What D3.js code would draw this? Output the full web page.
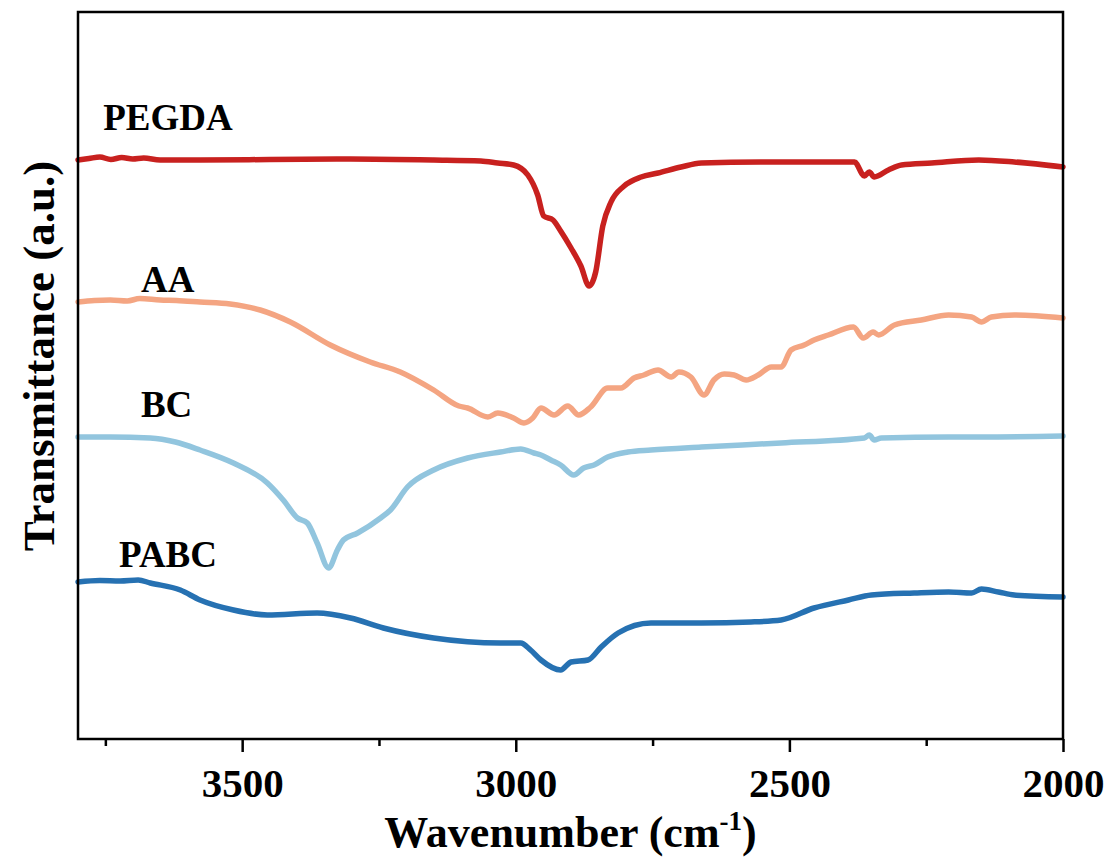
<!DOCTYPE html>
<html>
<head>
<meta charset="utf-8">
<script src="https://cdn.jsdelivr.net/npm/d3@7"></script>
<style>
  body { margin: 0; background: #fff; }
  svg text { font-family: "Liberation Serif", "Times New Roman", serif; font-weight: bold; fill: #000; }
</style>
</head>
<body>
<svg id="canvas" width="1112" height="863"></svg>
<script>
// FTIR spectra, wavenumber (cm-1) vs transmittance (a.u., stacked with offsets)
var pegdaWn = [3800, 3780, 3760, 3740, 3720, 3700, 3680, 3650, 3577, 3450, 3302, 3150, 3064, 3033, 3004, 2978, 2960, 2949, 2932, 2918, 2899, 2881, 2866, 2854, 2841, 2826, 2802, 2771, 2740, 2698, 2661, 2552, 2450, 2381, 2363, 2354, 2345, 2319, 2295, 2240, 2154, 2089, 2000];
var pegdaT  = [116.0, 116.3, 116.6, 116.1, 116.5, 116.2, 116.4, 116.0, 116.0, 116.1, 116.2, 116.0, 115.8, 115.4, 115.0, 113.0, 109.0, 104.8, 104.0, 101.8, 98.4, 94.8, 90.8, 93.6, 102.8, 107.6, 110.8, 112.6, 113.4, 114.6, 115.4, 115.6, 115.6, 115.6, 112.8, 113.6, 112.6, 114.0, 115.0, 115.4, 116.0, 115.6, 114.6];

var aaWn = [3800, 3770, 3741, 3710, 3687, 3650, 3620, 3577, 3522, 3467, 3412, 3339, 3266, 3211, 3150, 3104, 3088, 3051, 3033, 3004, 2985, 2969, 2954, 2930, 2905, 2885, 2863, 2832, 2808, 2784, 2766, 2740, 2716, 2702, 2680, 2656, 2638, 2619, 2601, 2579, 2557, 2533, 2515, 2497, 2473, 2455, 2429, 2383, 2365, 2347, 2337, 2308, 2259, 2209, 2167, 2149, 2131, 2089, 2000];
var aaT  = [87.6, 87.9, 88.0, 87.8, 88.3, 88.0, 87.9, 87.6, 87.2, 86.0, 83.6, 79.0, 75.6, 73.6, 70.0, 66.8, 66.4, 64.6, 65.4, 64.4, 63.4, 64.4, 66.4, 65.0, 66.8, 65.0, 66.6, 70.4, 70.4, 72.4, 73.0, 74.0, 72.6, 73.6, 72.6, 69.0, 72.0, 73.2, 73.0, 72.0, 73.0, 74.6, 74.6, 78.0, 79.0, 80.0, 81.0, 82.6, 80.4, 81.6, 81.0, 83.0, 84.0, 85.0, 84.6, 83.6, 84.6, 85.0, 84.4];

var bcWn = [3800, 3741, 3668, 3622, 3577, 3516, 3454, 3425, 3399, 3381, 3363, 3342, 3326, 3315, 3289, 3247, 3229, 3198, 3150, 3088, 3028, 2991, 2967, 2954, 2936, 2918, 2894, 2876, 2857, 2832, 2795, 2753, 2661, 2515, 2363, 2354, 2345, 2332, 2209, 2149, 2000];
var bcT  = [60.6, 60.6, 60.4, 59.6, 58.0, 55.4, 51.4, 48.0, 44.4, 43.4, 39.4, 34.4, 38.0, 40.0, 41.4, 44.4, 46.0, 50.6, 54.0, 56.4, 57.6, 58.2, 57.4, 57.0, 56.0, 55.0, 53.0, 54.4, 55.0, 56.6, 57.6, 58.0, 58.6, 59.4, 60.4, 61.0, 60.0, 60.4, 60.6, 60.6, 60.8];

var pabcWn = [3800, 3760, 3723, 3690, 3668, 3613, 3577, 3516, 3454, 3363, 3302, 3242, 3150, 3028, 2991, 2973, 2954, 2918, 2899, 2868, 2844, 2813, 2753, 2661, 2570, 2515, 2455, 2392, 2350, 2272, 2209, 2167, 2149, 2118, 2089, 2000];
var pabcT  = [31.6, 31.9, 31.8, 32.0, 31.4, 30.0, 28.0, 26.0, 25.0, 25.4, 24.4, 22.4, 20.4, 19.4, 19.4, 18.0, 16.0, 14.0, 15.6, 16.0, 18.6, 21.4, 23.4, 23.4, 23.6, 24.0, 26.4, 28.0, 29.0, 29.4, 29.6, 29.4, 30.2, 29.6, 29.0, 28.6];

var seriesNames  = ["PEGDA", "AA", "BC", "PABC"];
var seriesColors = ["#C8211F", "#F4A582", "#92C5DE", "#2671B2"];
// label anchor points in data units (wavenumber, a.u.)
var labelWn = [3754, 3685, 3685, 3725];
var labelT  = [122.0, 89.6, 64.6, 34.6];

var majorTicks = [3500, 3000, 2500, 2000];
var minorTicks = [3750, 3250, 2750, 2250];

var series = [
  {name: seriesNames[0], wn: pegdaWn, t: pegdaT},
  {name: seriesNames[1], wn: aaWn, t: aaT},
  {name: seriesNames[2], wn: bcWn, t: bcT},
  {name: seriesNames[3], wn: pabcWn, t: pabcT}
];

var margin = {left: 78, right: 1063, top: 12, bottom: 739};
var svg = d3.select("#canvas");

var x = d3.scaleLinear().domain([3800, 2000]).range([margin.left, margin.right]);
var y = d3.scaleLinear().domain([0, 145.6]).range([740, margin.top]);

// curves
var line = d3.line()
  .x(function(d) { return x(d[0]); })
  .y(function(d) { return y(d[1]); })
  .curve(d3.curveMonotoneX);

svg.selectAll("path.spec")
  .data(series)
  .enter()
  .append("path")
  .attr("class", "spec")
  .attr("fill", "none")
  .attr("stroke", function(d, i) { return seriesColors[i]; })
  .attr("stroke-width", 5.5)
  .attr("stroke-linejoin", "round")
  .attr("stroke-linecap", "round")
  .attr("d", function(d) {
    return line(d.wn.map(function(w, i) { return [w, d.t[i]]; }));
  });

// series labels
svg.selectAll("text.lab")
  .data(seriesNames)
  .enter()
  .append("text")
  .attr("class", "lab")
  .attr("x", function(d, i) { return x(labelWn[i]); })
  .attr("y", function(d, i) { return y(labelT[i]); })
  .attr("font-size", 37)
  .text(function(d) { return d; });

// frame
svg.append("rect")
  .attr("x", margin.left)
  .attr("y", margin.top)
  .attr("width", margin.right - margin.left)
  .attr("height", margin.bottom - margin.top)
  .attr("fill", "none")
  .attr("stroke", "#000")
  .attr("stroke-width", 2.5);

// x axis, major + minor ticks
var gMajor = svg.append("g")
  .attr("transform", "translate(0," + margin.bottom + ")")
  .call(d3.axisBottom(x).tickValues(majorTicks).tickSize(13).tickSizeOuter(0).tickPadding(16)
    .tickFormat(d3.format("d")));
gMajor.select(".domain").remove();
gMajor.selectAll("line").attr("stroke", "#000").attr("stroke-width", 2.5);
gMajor.selectAll("text")
  .attr("font-size", 41)
  .style("font-family", "'Liberation Serif', 'Times New Roman', serif")
  .style("font-weight", "bold")
  .attr("fill", "#000");

var gMinor = svg.append("g")
  .attr("transform", "translate(0," + margin.bottom + ")")
  .call(d3.axisBottom(x).tickValues(minorTicks).tickSize(7).tickSizeOuter(0).tickFormat(""));
gMinor.select(".domain").remove();
gMinor.selectAll("line").attr("stroke", "#000").attr("stroke-width", 2.5);

// axis titles
var xt = svg.append("text")
  .attr("x", (margin.left + margin.right) / 2)
  .attr("y", 847)
  .attr("text-anchor", "middle")
  .attr("font-size", 44);
xt.append("tspan").text("Wavenumber (cm");
xt.append("tspan").attr("dy", -17).attr("font-size", 27).text("-1");
xt.append("tspan").attr("dy", 17).text(")");

svg.append("text")
  .attr("transform", "translate(54," + 356 + ") rotate(-90)")
  .attr("text-anchor", "middle")
  .attr("font-size", 45)
  .text("Transmittance (a.u.)");
</script>
</body>
</html>
